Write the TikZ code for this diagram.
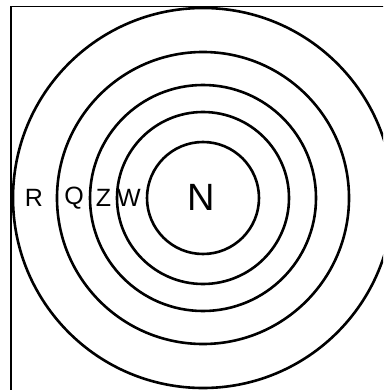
\documentclass[tikz,border=0pt]{standalone}
\usepackage{fontspec}
\setmainfont{Liberation Sans}
\begin{document}
\begin{tikzpicture}[x=1pt,y=-1pt,
  ring/.style={line width=2.6pt},
  frameline/.style={line width=1.6pt},
  lbl/.style={font=\fontsize{25}{27}\selectfont, inner sep=0pt, anchor=center},
  biglbl/.style={font=\fontsize{38}{40}\selectfont, inner sep=0pt, anchor=center}]
\useasboundingbox (0,0) rectangle (383,390);
\begin{scope}
\clip (0,0) rectangle (383,390);
\coordinate (c) at (203,198);
\draw[ring] (c) circle[radius=56];
\draw[ring] (c) circle[radius=86];
\draw[ring] (c) circle[radius=113];
\draw[ring] (c) circle[radius=146];
\draw[ring] (c) circle[radius=190];
\coordinate (tl) at (11,6.5);
\coordinate (tr) at (384,6.5);
\coordinate (bl) at (11,391);
\draw[frameline] (tr) -- (tl) -- (bl);
\end{scope}
\node[lbl] (R) at (34,198) {R};
\node[lbl] (Q) at (74,198) {Q};
\node[lbl] (Z) at (103.5,198) {Z};
\node[lbl] (W) at (129,198) {W};
\node[biglbl] (N) at (201.5,197.5) {N};
\end{tikzpicture}
\end{document}
